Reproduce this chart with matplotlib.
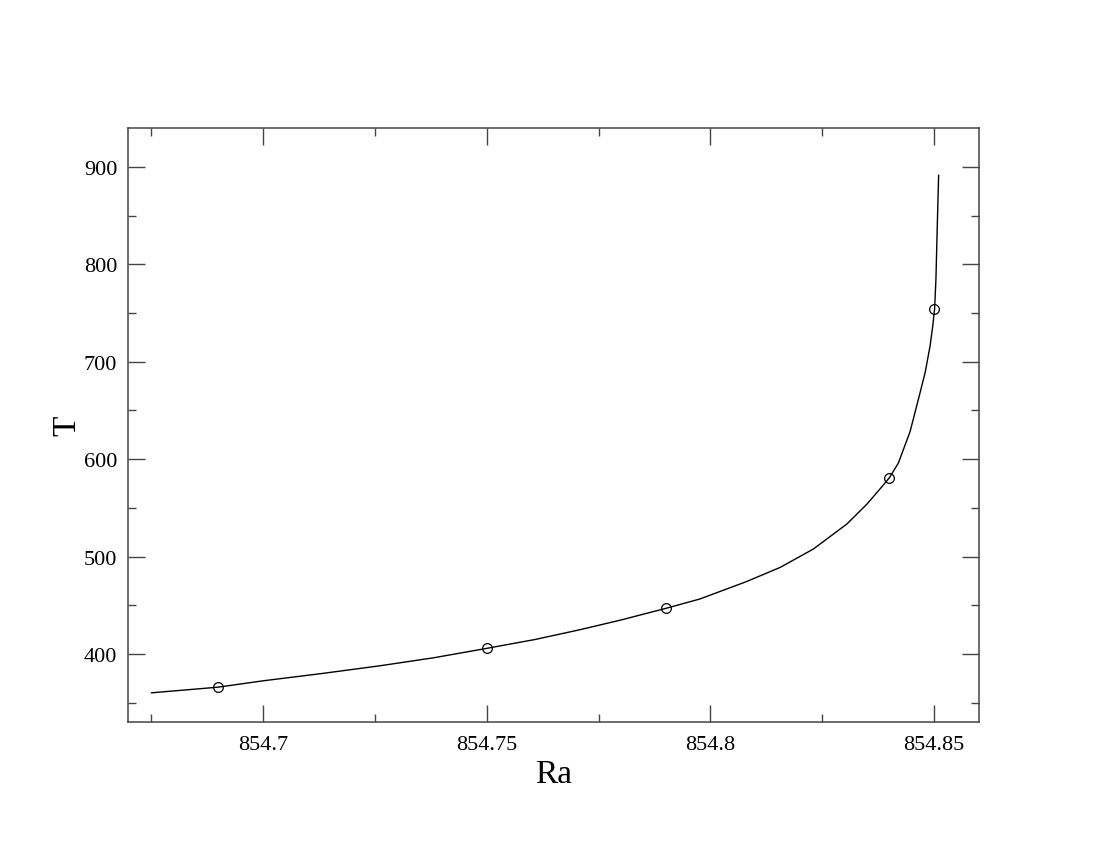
import numpy as np
import matplotlib
matplotlib.use("Agg")
import matplotlib.pyplot as plt
from matplotlib.ticker import MultipleLocator, FuncFormatter

# 曲线数据
ra_curve = [854.6751, 854.6900, 854.7000, 854.7130, 854.7261, 854.7381, 854.7500,
            854.7608, 854.7708, 854.7800, 854.7900, 854.7976, 854.8080, 854.8156,
            854.8230, 854.8305, 854.8350, 854.8379, 854.8400, 854.8420, 854.8446,
            854.8465, 854.8480, 854.8491, 854.8497, 854.8501, 854.8504, 854.8507,
            854.8510]
t_curve = [360.3, 366.1, 372.6, 380.0, 388.0, 396.2, 405.9,
           415.0, 425.0, 435.0, 446.9, 456.5, 474.3, 489.0,
           507.8, 533.5, 554.0, 569.5, 581.0, 596.0, 628.0,
           661.8, 689.2, 716.5, 737.1, 754.2, 785.0, 839.8,
           891.2]

# 数据点
ra_pts = [854.69, 854.75, 854.79, 854.84, 854.85]
t_pts = [366.1, 405.9, 446.9, 580.7, 754.2]

x_ticks = [854.7, 854.75, 854.8, 854.85]
y_ticks = [400, 500, 600, 700, 800, 900]

plt.rcParams["font.family"] = ["Liberation Serif", "DejaVu Serif"]

fig = plt.figure(figsize=(11.02, 8.53), dpi=100)
ax = fig.add_axes([0.1164, 0.152, 0.7723, 0.697])

ax.plot(ra_curve, t_curve, color="black", lw=1.0)
ax.plot(ra_pts, t_pts, "o", ms=7, mfc="none", mec="black", mew=0.9)

ax.set_xlim(854.6699, 854.8601)
ax.set_ylim(330, 940)
ax.set_xticks(x_ticks)
ax.set_yticks(y_ticks)
ax.xaxis.set_minor_locator(MultipleLocator(0.025))
ax.yaxis.set_minor_locator(MultipleLocator(50))
ax.xaxis.set_major_formatter(FuncFormatter(lambda v, p: "%g" % round(v, 3)))

ax.tick_params(which="both", direction="in", top=True, right=True,
               color="#444444", width=1.0, labelsize=16)
ax.tick_params(which="major", length=12)
ax.tick_params(which="minor", length=6)
ax.tick_params(axis="x", pad=9)
ax.tick_params(axis="y", pad=8)
for s in ax.spines.values():
    s.set_color("#444444")
    s.set_linewidth(1.1)

ax.set_xlabel("Ra", fontsize=24, labelpad=3)
ax.set_ylabel("T", fontsize=24, labelpad=1)

fig.savefig("out.png", dpi=100, facecolor="white")
